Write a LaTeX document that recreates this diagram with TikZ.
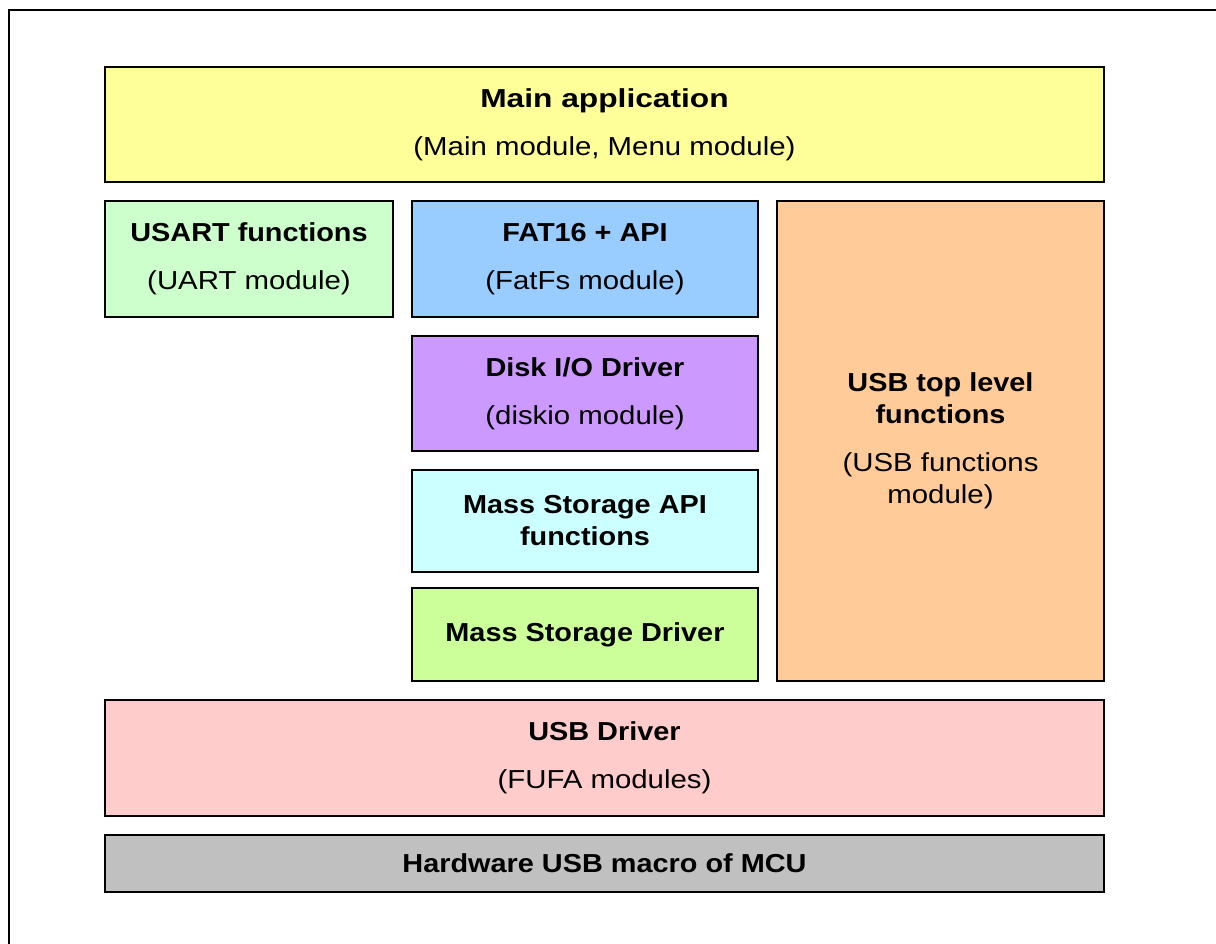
\documentclass[tikz,border=0pt]{standalone}
\usepackage{fontspec}
\setmainfont{Liberation Sans}[FakeStretch=1.13, BoldFeatures={FakeStretch=1.11}]
\newfontface\widebold{Liberation Sans Bold}[FakeStretch=1.22]
\definecolor{cMain}{HTML}{FFFF99}
\definecolor{cUsart}{HTML}{CCFFCC}
\definecolor{cFat}{HTML}{99CCFF}
\definecolor{cDisk}{HTML}{CC99FF}
\definecolor{cMsApi}{HTML}{CCFFFF}
\definecolor{cMsDrv}{HTML}{CCFF99}
\definecolor{cUsbTop}{HTML}{FFCC99}
\definecolor{cUsbDrv}{HTML}{FFCCCC}
\definecolor{cHw}{HTML}{C0C0C0}
\begin{document}
\begin{tikzpicture}[x=1pt,y=-1pt,
  box/.style={draw=black, line width=1.5pt, inner sep=0pt, outer sep=0pt,
    align=center, anchor=north west, font=\fontsize{26}{32}\selectfont},
  frame/.style={draw=black, line width=2pt}]
\useasboundingbox (0,0) rectangle (1216,944);
\draw[frame] (9,960) -- (9,10) -- (1230,10);
\node[box, fill=cMain, minimum width=999pt, minimum height=115pt] (main) at (105,67)
  {{\widebold Main application}\\[16pt](Main module, Menu module)};
\node[box, fill=cUsart, minimum width=288pt, minimum height=116pt] (usart) at (105,201)
  {\textbf{USART functions}\\[16pt](UART module)};
\node[box, fill=cFat, minimum width=346pt, minimum height=116pt] (fat) at (412,201)
  {\textbf{FAT16 + API}\\[16pt](FatFs module)};
\node[box, fill=cDisk, minimum width=346pt, minimum height=115pt] (disk) at (412,336)
  {\textbf{Disk I/O Driver}\\[16pt](diskio module)};
\node[box, fill=cMsApi, minimum width=346pt, minimum height=102pt] (msapi) at (412,470)
  {\textbf{Mass Storage API}\\\textbf{functions}};
\node[box, fill=cMsDrv, minimum width=346pt, minimum height=93pt] (msdrv) at (412,588)
  {\textbf{Mass Storage Driver}};
\node[box, fill=cUsbTop, minimum width=327pt, minimum height=480pt] (usbtop) at (777,201)
  {\textbf{USB top level}\\\textbf{functions}\\[16pt](USB functions\\module)};
\node[box, fill=cUsbDrv, minimum width=999pt, minimum height=116pt] (usbdrv) at (105,700)
  {\textbf{USB Driver}\\[16pt](FUFA modules)};
\node[box, fill=cHw, minimum width=999pt, minimum height=57pt] (hw) at (105,835)
  {\textbf{Hardware USB macro of MCU}};
\end{tikzpicture}
\end{document}
